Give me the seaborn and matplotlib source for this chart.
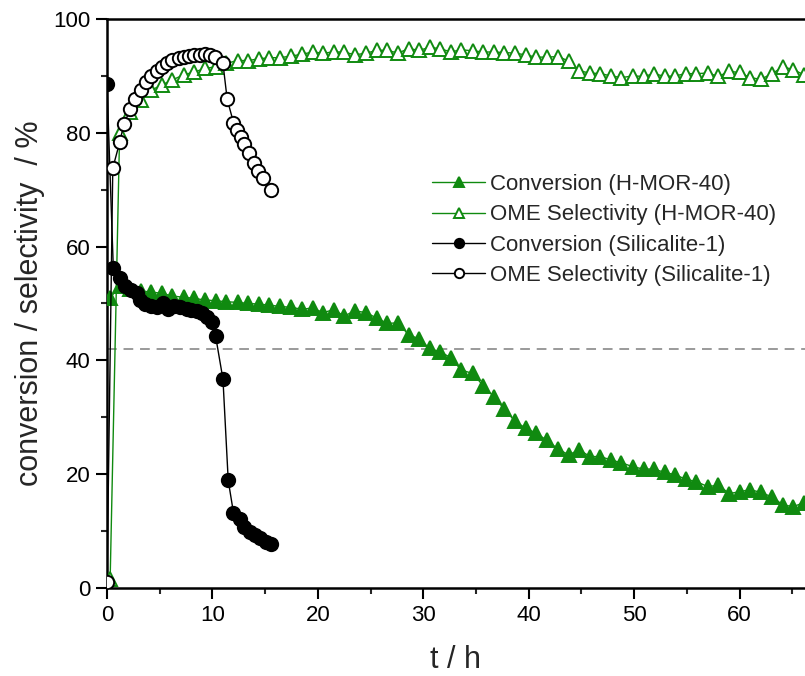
import matplotlib
matplotlib.use("Agg")
import matplotlib.pyplot as plt
from matplotlib.ticker import MultipleLocator
import seaborn as sns
import pandas as pd

# ---------------- data ----------------
t_mor = [0.3, 1.2, 2.2, 3.2, 4.2, 5.2, 6.2, 7.3, 8.3, 9.3, 10.3,
         11.3, 12.4, 13.4, 14.4, 15.4, 16.4, 17.5, 18.5, 19.5, 20.5,
         21.5, 22.5, 23.5, 24.6, 25.6, 26.6, 27.6, 28.6, 29.6, 30.6,
         31.6, 32.6, 33.6, 34.7, 35.7, 36.7, 37.7, 38.7, 39.7, 40.7,
         41.7, 42.8, 43.8, 44.8, 45.8, 46.8, 47.8, 48.8, 49.9, 50.9,
         51.9, 52.9, 53.9, 54.9, 55.9, 57.0, 58.0, 59.0, 60.0,
         61.0, 62.0, 63.1, 64.1, 65.1, 66.1]
conv_mor = [51.0, 53.0, 52.6, 52.2, 52.0, 51.8, 51.3, 51.1, 50.9, 50.6, 50.5,
            50.3, 50.2, 50.0, 49.9, 49.7, 49.5, 49.3, 49.0, 49.2, 48.4,
            48.9, 47.8, 48.7, 48.4, 47.4, 46.5, 46.6, 44.5, 43.8, 42.1,
            41.5, 40.5, 38.3, 37.7, 35.5, 33.6, 31.4, 29.3, 28.1, 27.2,
            26.0, 24.4, 23.4, 24.3, 23.1, 23.1, 22.5, 22.0, 21.3, 20.9,
            20.9, 20.3, 19.9, 19.1, 18.7, 17.8, 18.1, 16.6, 16.9,
            17.3, 16.8, 16.0, 14.6, 14.3, 15.0]
sel_mor = [1.5, 80.0, 83.7, 85.8, 87.5, 88.4, 89.3, 90.2, 90.7, 91.3, 91.6,
           92.2, 92.7, 92.7, 93.0, 93.2, 93.2, 93.5, 93.8, 94.2, 94.0,
           94.2, 94.2, 93.7, 94.0, 94.5, 94.5, 94.0, 94.8, 94.5, 95.0,
           94.8, 94.2, 94.6, 94.4, 94.2, 94.2, 94.1, 94.0, 93.7, 93.3,
           93.3, 93.4, 92.6, 90.9, 90.5, 90.4, 90.0, 89.7, 90.0, 89.9,
           90.4, 89.9, 90.0, 90.4, 90.4, 90.5, 89.9, 90.8, 90.6,
           89.7, 89.4, 90.4, 91.6, 91.1, 90.2]

t_sil_conv = [0.0, 0.6, 1.2, 1.7, 2.3, 2.8, 3.1, 3.6, 4.2, 4.7, 5.3, 5.8,
              6.4, 6.9, 7.6, 8.0, 8.5, 9.0, 9.5, 10.0, 10.3, 11.0, 11.5,
              12.0, 12.6, 13.0, 13.6, 14.0, 14.5, 15.1, 15.6]
conv_sil = [88.5, 56.2, 54.4, 53.0, 52.4, 51.8, 50.6, 49.9, 49.6, 49.3, 50.1,
            49.0, 49.6, 49.3, 49.1, 48.9, 48.6, 48.3, 47.6, 46.8, 44.3, 36.7,
            18.9, 13.2, 12.2, 10.8, 9.9, 9.3, 8.7, 8.0, 7.7]

t_sil_sel = [0.0, 0.55, 1.2, 1.6, 2.2, 2.7, 3.2, 3.7, 4.2, 4.7, 5.2, 5.7,
             6.2, 6.8, 7.3, 7.8, 8.3, 8.8, 9.3, 9.8, 10.2, 11.0, 11.4, 12.0,
             12.3, 12.7, 13.0, 13.5, 13.9, 14.3, 14.8, 15.6]
sel_sil = [1.0, 73.8, 78.3, 81.5, 84.1, 86.0, 87.6, 89.0, 90.0, 90.9, 91.6,
           92.3, 92.8, 93.1, 93.4, 93.5, 93.7, 93.7, 93.8, 93.7, 93.4, 92.2,
           85.9, 81.8, 80.5, 79.3, 78.0, 76.5, 74.7, 73.3, 72.0, 70.0]

labels = ["Conversion (H-MOR-40)", "OME Selectivity (H-MOR-40)",
          "Conversion (Silicalite-1)", "OME Selectivity (Silicalite-1)"]
x_ticks = [0, 10, 20, 30, 40, 50, 60]
y_ticks = [0, 20, 40, 60, 80, 100]
threshold = 42

# ---------------- style ----------------
sns.set_style("ticks")
plt.rcParams["font.family"] = ["Liberation Sans", "DejaVu Sans"]

GREEN = "#108a10"

fig = plt.figure(figsize=(8.05, 6.76), dpi=100)
ax = fig.add_axes([0.1329, 0.1302, 0.867, 0.8417])

ax.axhline(threshold, color="#9a9a9a", lw=1.4, ls=(0, (5, 3.5)), zorder=1)

series = [
    (t_mor, conv_mor, labels[0], GREEN, "^", GREEN),
    (t_mor, sel_mor, labels[1], GREEN, "^", "white"),
    (t_sil_conv, conv_sil, labels[2], "black", "o", "black"),
    (t_sil_sel, sel_sil, labels[3], "black", "o", "white"),
]
for i, (xs, ys, lab, col, mk, fc) in enumerate(series):
    df = pd.DataFrame({"t": xs, "v": ys})
    sns.lineplot(data=df, x="t", y="v", ax=ax, sort=False, estimator=None,
                 color=col, lw=1.0, marker=mk, markersize=9.6,
                 markerfacecolor=fc, markeredgecolor=col, markeredgewidth=1.4,
                 label=lab, zorder=3 + i)

ax.set_xlim(0, 66.2)
ax.set_ylim(0, 100)
ax.set_xticks(x_ticks)
ax.set_yticks(y_ticks)
ax.xaxis.set_minor_locator(MultipleLocator(5))
ax.yaxis.set_minor_locator(MultipleLocator(10))
ax.tick_params(which="major", direction="out", length=8, width=1.5,
               labelsize=16, pad=4, colors="black")
ax.tick_params(which="minor", direction="out", length=4.5, width=1.5)

for s in ["left", "bottom", "top"]:
    ax.spines[s].set_linewidth(1.8)
    ax.spines[s].set_color("black")
ax.spines["right"].set_visible(False)

ax.set_xlabel("t / h", fontsize=22, labelpad=14)
ax.set_ylabel("conversion / selectivity  / %", fontsize=22, labelpad=6)

leg = ax.legend(loc="upper left", bbox_to_anchor=(432 / 805, 1 - 174 / 676),
                bbox_transform=fig.transFigure, frameon=False, fontsize=16,
                handlelength=2.4, handletextpad=0.2, labelspacing=0.42,
                borderpad=0, borderaxespad=0, markerscale=0.7)

fig.savefig("out.png", dpi=100)
